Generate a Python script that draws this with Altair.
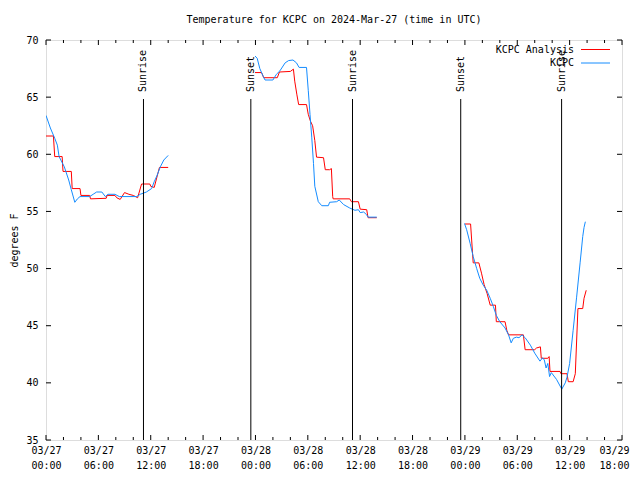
import altair as alt
import pandas as pd

MONO = "DejaVu Sans Mono"
TITLE = "Temperature for KCPC on 2024-Mar-27 (time in UTC)"
SERIES = ["KCPC Analysis", "KCPC"]
COLORS = ["#ff0000", "#148cff"]

# hours since 03/27 00:00 UTC, temperature (degrees F)
analysis_seg1 = [(0.0, 61.6), (0.85, 61.6), (1.0, 59.8), (1.85, 59.8), (1.95, 58.5), (2.9, 58.5),
                 (3.0, 57.0), (3.9, 57.0), (4.0, 56.4), (5.0, 56.4), (5.1, 56.1), (6.9, 56.15),
                 (7.0, 56.4), (7.9, 56.4), (8.1, 56.2), (8.5, 56.05), (9.0, 56.65), (9.5, 56.5),
                 (10.0, 56.4), (10.5, 56.2), (10.95, 57.4), (11.9, 57.4), (12.0, 57.2), (12.4, 57.1),
                 (13.0, 58.85), (14.0, 58.85)]
analysis_seg2 = [(23.95, 67.15), (24.7, 67.15), (24.95, 66.7), (26.5, 66.7), (26.75, 67.2), (28.0, 67.25),
                 (28.35, 67.45), (28.5, 66.4), (28.75, 65.2), (28.95, 64.35), (29.85, 64.35), (30.05, 63.5),
                 (30.3, 62.9), (30.55, 62.5), (30.8, 61.2), (31.0, 59.75), (31.8, 59.7), (32.0, 58.65),
                 (32.5, 58.65), (32.7, 58.75), (32.85, 56.3), (32.9, 56.1), (34.8, 56.1), (35.0, 55.85),
                 (35.8, 55.85), (36.0, 55.2), (36.75, 55.15), (36.9, 54.45), (37.9, 54.45)]
analysis_seg3 = [(48.0, 53.9), (48.65, 53.9), (48.95, 50.5), (49.6, 50.5), (49.9, 49.6), (50.2, 48.6),
                 (50.55, 47.8), (50.9, 46.8), (51.5, 46.8), (51.6, 45.35), (52.6, 45.35), (52.8, 44.6),
                 (53.0, 44.2), (54.7, 44.2), (54.9, 42.9), (56.0, 42.9), (56.2, 43.05), (56.65, 43.15),
                 (56.75, 42.15), (57.5, 42.15), (57.65, 42.3), (57.75, 41.0), (58.9, 41.0), (59.0, 40.8),
                 (59.7, 40.8), (59.85, 40.1), (60.4, 40.1), (60.65, 40.8), (60.95, 46.5), (61.5, 46.5),
                 (61.65, 47.4), (61.9, 48.1)]

obs_seg1 = [(0.0, 63.4), (0.5, 62.3), (1.0, 61.4), (1.3, 60.8), (1.5, 59.8), (2.1, 58.9), (2.6, 57.75),
            (2.9, 56.9), (3.3, 55.8), (3.6, 56.1), (3.9, 56.3), (5.0, 56.3), (5.4, 56.5), (5.8, 56.7),
            (6.4, 56.7), (6.8, 56.3), (7.1, 56.5), (7.9, 56.5), (8.4, 56.3), (10.4, 56.3), (10.8, 56.5),
            (11.5, 56.7), (12.1, 57.0), (12.4, 57.6), (12.7, 58.1), (13.1, 58.9), (13.5, 59.5), (14.0, 59.9)]
obs_seg2 = [(23.95, 68.6), (24.2, 68.4), (24.5, 67.5), (24.9, 66.8), (25.1, 66.5), (26.0, 66.5),
            (26.4, 67.0), (26.8, 67.3), (27.4, 68.0), (27.8, 68.2), (28.3, 68.25), (28.7, 68.0),
            (29.0, 67.6), (29.85, 67.6), (30.05, 65.6), (30.25, 63.5), (30.45, 61.5), (30.65, 59.2),
            (30.8, 57.2), (31.2, 55.85), (31.6, 55.5), (32.35, 55.5), (32.5, 55.8), (33.3, 55.85),
            (33.6, 56.0), (34.1, 55.6), (34.8, 55.3), (35.4, 55.1), (35.8, 55.15), (36.0, 54.9),
            (36.4, 54.95), (36.75, 54.7), (36.9, 54.5), (37.9, 54.5)]
obs_seg3 = [(47.95, 53.95), (48.2, 53.4), (48.6, 52.2), (48.95, 51.05), (49.35, 50.0), (49.7, 49.15),
            (50.1, 48.55), (50.5, 48.1), (50.9, 47.4), (51.25, 46.7), (51.6, 45.9), (52.0, 45.35),
            (52.6, 44.8), (53.0, 44.2), (53.3, 43.5), (53.55, 43.9), (53.9, 44.0), (54.2, 43.95),
            (54.55, 44.2), (54.9, 43.95), (55.5, 43.3), (56.0, 42.6), (56.6, 41.9), (56.9, 42.2),
            (57.1, 42.0), (57.3, 41.3), (57.5, 41.7), (57.7, 40.55), (57.9, 40.9), (58.2, 40.6),
            (58.5, 40.3), (59.1, 39.45), (59.5, 40.0), (59.7, 40.5), (60.0, 41.7), (60.4, 44.6),
            (60.8, 47.5), (61.2, 50.5), (61.5, 52.8), (61.65, 53.6), (61.8, 54.1)]

SUN_EVENTS = ["Sunrise", "Sunset", "Sunrise", "Sunset", "Sunrise"]
SUN_HOURS = [11.17, 23.47, 35.12, 47.52, 59.08]

X_MAJOR = list(range(0, 67, 6))
X_MINOR = [h for h in range(0, 67, 2) if h % 6]
Y_TICKS = list(range(35, 71, 5))

W, H = 576, 400

rows = []
for name, segs in [(SERIES[0], [analysis_seg1, analysis_seg2, analysis_seg3]),
                   (SERIES[1], [obs_seg1, obs_seg2, obs_seg3])]:
    for si, seg in enumerate(segs):
        for i, (h, t) in enumerate(seg):
            rows.append({"series": name, "key": f"{name}-{si}", "idx": i, "hour": h, "temp": t})
df = pd.DataFrame(rows)

xscale = alt.Scale(domain=[0, 66], nice=False, zero=False)
yscale = alt.Scale(domain=[35, 70], nice=False, zero=False)

label_expr = ("['03/' + (27 + floor(datum.value / 24)), "
              "(datum.value % 24 < 10 ? '0' : '') + (datum.value % 24) + ':00']")

XAXIS = alt.Axis(
    values=X_MAJOR, labelExpr=label_expr, ticks=False, tickSize=0, domain=False, grid=False,
    labelFont=MONO, labelFontSize=10, labelColor="black", labelPadding=5, labelLineHeight=15,
    labelOffset={"condition": {"test": f"datum.value >= {X_MAJOR[-1]}", "value": -8}, "value": 0},
    labelOverlap=False, labelBound=False, labelFlush=False, title="")
YAXIS = alt.Axis(
    values=Y_TICKS, ticks=False, tickSize=0, domain=False, grid=False,
    labelFont=MONO, labelFontSize=10, labelColor="black", labelPadding=8,
    title="degrees F", titleFont=MONO, titleFontSize=10, titleFontWeight="normal",
    titleColor="black", titleAngle=270, titleX=-32, titleY=H / 2,
    titleAlign="center", titleBaseline="middle")


def X(field):
    return alt.X(field, scale=xscale, axis=XAXIS)


def Y(field):
    return alt.Y(field, scale=yscale, axis=YAXIS)


lines = alt.Chart(df).mark_line(strokeWidth=1, clip=True).encode(
    x=X("hour:Q"),
    y=Y("temp:Q"),
    color=alt.Color("series:N", scale=alt.Scale(domain=SERIES, range=COLORS), legend=None),
    detail="key:N",
    order="idx:Q",
)

major_df = pd.DataFrame({"hour": X_MAJOR})
minor_df = pd.DataFrame({"hour": X_MINOR})
ytick_df = pd.DataFrame({"temp": Y_TICKS})


def xticks(data, y0, y1):
    return alt.Chart(data).mark_rule(color="black", strokeWidth=1).encode(
        x=X("hour:Q"), y=alt.value(y0), y2=alt.value(y1))


def yticks(x0, x1):
    return alt.Chart(ytick_df).mark_rule(color="black", strokeWidth=1).encode(
        y=Y("temp:Q"), x=alt.value(x0), x2=alt.value(x1))


ticks = [xticks(major_df, H, H - 5), xticks(major_df, 0, 5),
         xticks(minor_df, H, H - 3), xticks(minor_df, 0, 3),
         yticks(0, 5), yticks(W, W - 5)]

sun_df = pd.DataFrame({"event": SUN_EVENTS, "hour": SUN_HOURS})
sun_rules = alt.Chart(sun_df).mark_rule(color="black", strokeWidth=1).encode(
    x=X("hour:Q"), y=alt.value(59), y2=alt.value(H))
sun_text = alt.Chart(sun_df).mark_text(
    angle=270, align="left", baseline="middle", font=MONO, fontSize=10, color="black").encode(
    x=X("hour:Q"), y=alt.value(52), text="event:N")

# key drawn at the top right, label left of its line sample (gnuplot style)
legend_layers = []
for i, (name, col) in enumerate(zip(SERIES, COLORS)):
    ldf = pd.DataFrame({"series": [name]})
    yy = 9.5 + 13.5 * i
    legend_layers.append(alt.Chart(ldf).mark_text(
        align="right", baseline="middle", font=MONO, fontSize=10, color="black").encode(
        text="series:N", x=alt.value(528), y=alt.value(yy)))
    legend_layers.append(alt.Chart(ldf).mark_rule(color=col, strokeWidth=1).encode(
        x=alt.value(535), x2=alt.value(564), y=alt.value(yy)))

chart = alt.layer(lines, *ticks, sun_rules, sun_text, *legend_layers).properties(
    width=W, height=H,
    autosize=alt.AutoSizeParams(type="none"),
    padding={"left": 38, "top": 32, "right": 10, "bottom": 32},
    title=alt.TitleParams(text=TITLE, font=MONO, fontSize=10, fontWeight="normal",
                          color="black", anchor="middle", offset=10),
).configure_view(stroke="black", strokeWidth=1).configure(background="white")

chart.save("out.html", embed_options={"renderer": "svg", "actions": False})
